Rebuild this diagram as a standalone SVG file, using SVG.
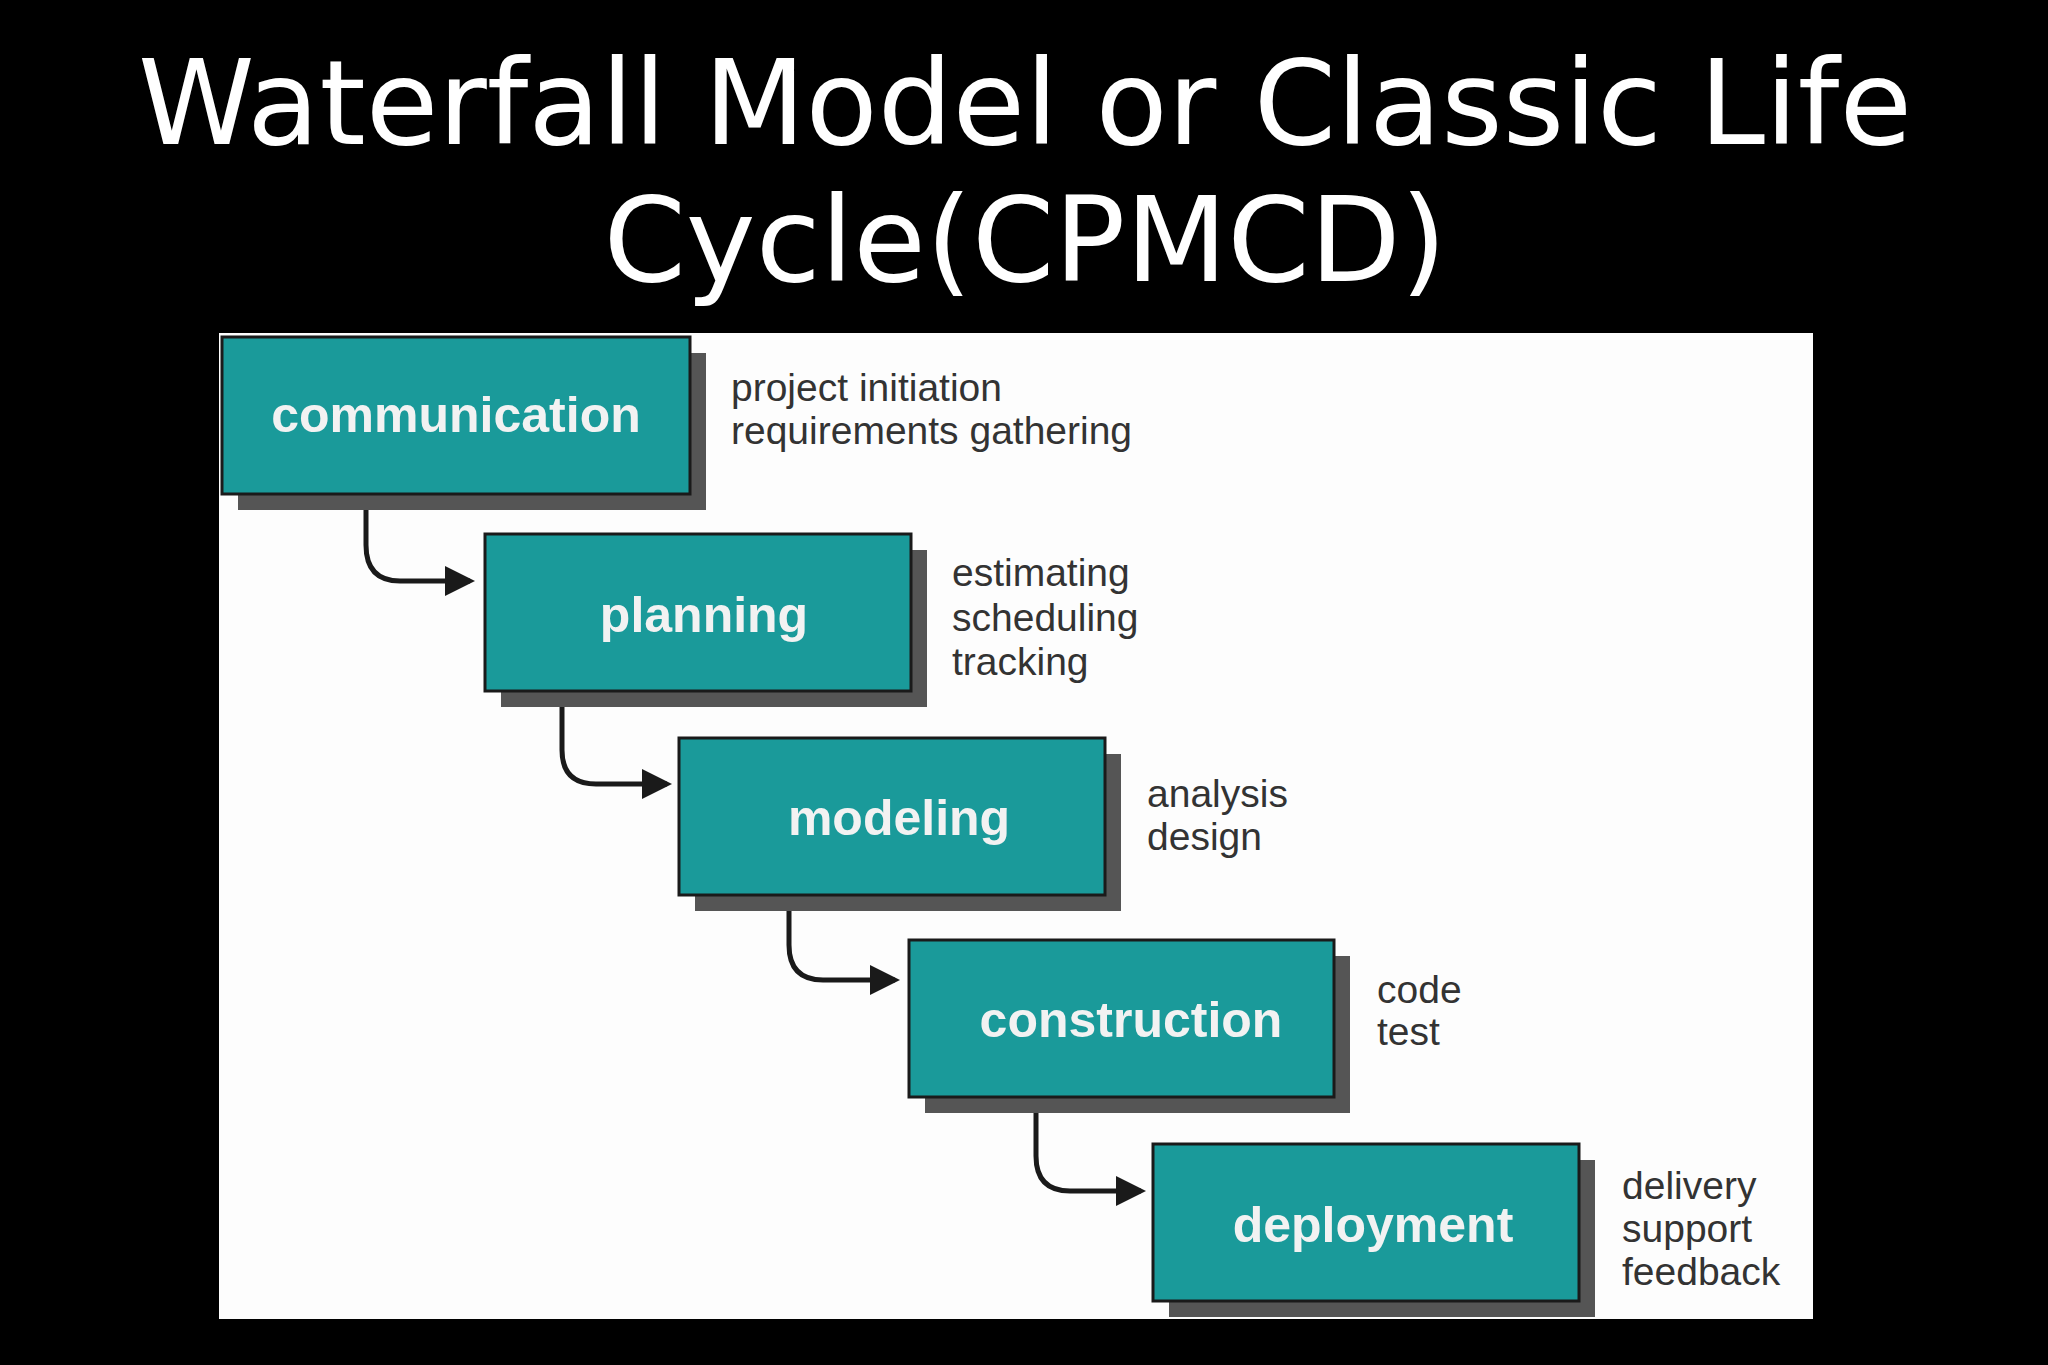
<svg xmlns="http://www.w3.org/2000/svg" width="2048" height="1365" viewBox="0 0 2048 1365">
<style>
.t{font-family:"DejaVu Sans","Noto Sans",sans-serif;fill:#fff;font-size:118px;text-anchor:middle}
.box{fill:#1a9a9a;stroke:#1a1a1a;stroke-width:3}
.sh{fill:#555}
.bl{font-family:"Liberation Sans",Arial,sans-serif;font-weight:bold;font-size:50px;fill:#f2f2f2;text-anchor:middle}
.sd{font-family:"Liberation Sans",Arial,sans-serif;font-size:39px;fill:#333}
.c{fill:none;stroke:#1a1a1a;stroke-width:5}
</style>
<defs><marker id="ah" markerWidth="6" markerHeight="6" refX="5" refY="3" orient="auto"><path d="M0,0 L6,3 L0,6 z" fill="#1a1a1a"/></marker></defs>
<rect width="2048" height="1365" fill="#000"/>
<text class="t" x="1025" y="144">Waterfall Model or Classic Life</text>
<text class="t" x="1025" y="281">Cycle(CPMCD)</text>
<rect x="219" y="333" width="1594" height="986" fill="#fdfdfd"/>
<g id="connectors">
<path class="c" d="M366,494 V545 Q366,581 400,581 H470" marker-end="url(#ah)"/>
<path class="c" d="M562,691 V750 Q562,784 596,784 H667" marker-end="url(#ah)"/>
<path class="c" d="M789,895 V945 Q789,980 823,980 H895" marker-end="url(#ah)"/>
<path class="c" d="M1036,1097 V1156 Q1036,1191 1070,1191 H1141" marker-end="url(#ah)"/>
</g>
<g id="communication"><rect class="sh" x="238" y="353" width="468" height="157"/><rect class="box" x="222" y="337" width="468" height="157"/><text class="bl" x="456" y="432">communication</text>
<text class="sd" x="731" y="401">project initiation</text><text class="sd" x="731" y="444">requirements gathering</text></g>
<g id="planning"><rect class="sh" x="501" y="550" width="426" height="157"/><rect class="box" x="485" y="534" width="426" height="157"/><text class="bl" x="704" y="632">planning</text>
<text class="sd" x="952" y="586">estimating</text><text class="sd" x="952" y="631">scheduling</text><text class="sd" x="952" y="675">tracking</text></g>
<g id="modeling"><rect class="sh" x="695" y="754" width="426" height="157"/><rect class="box" x="679" y="738" width="426" height="157"/><text class="bl" x="899" y="835">modeling</text>
<text class="sd" x="1147" y="807">analysis</text><text class="sd" x="1147" y="850">design</text></g>
<g id="construction"><rect class="sh" x="925" y="956" width="425" height="157"/><rect class="box" x="909" y="940" width="425" height="157"/><text class="bl" x="1131" y="1037">construction</text>
<text class="sd" x="1377" y="1003">code</text><text class="sd" x="1377" y="1045">test</text></g>
<g id="deployment"><rect class="sh" x="1169" y="1160" width="426" height="157"/><rect class="box" x="1153" y="1144" width="426" height="157"/><text class="bl" x="1373" y="1242">deployment</text>
<text class="sd" x="1622" y="1199">delivery</text><text class="sd" x="1622" y="1242">support</text><text class="sd" x="1622" y="1285">feedback</text></g>
</svg>
